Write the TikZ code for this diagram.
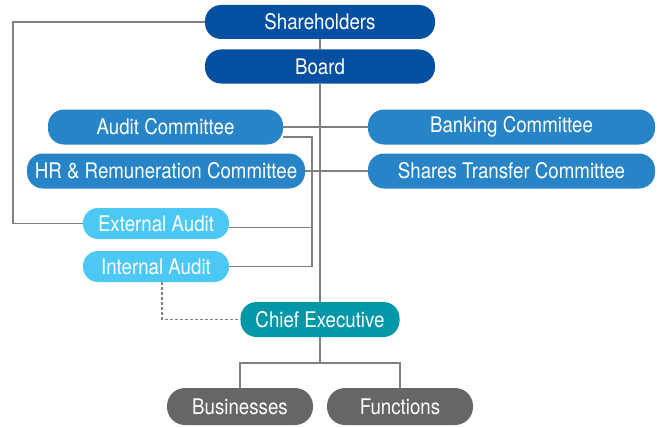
\documentclass[tikz,border=0pt]{standalone}
\usepackage{fontspec}
\setmainfont[FakeStretch=0.87]{TeX Gyre Heros}
\usepackage{tikz}
\usepackage{xcolor}
\usetikzlibrary{positioning,shapes}
\definecolor{boardblue}{HTML}{0550A0}
\definecolor{commblue}{HTML}{2785C7}
\definecolor{auditblue}{HTML}{4BC8F4}
\definecolor{ceteal}{HTML}{0097A6}
\definecolor{unitgray}{HTML}{666666}
\definecolor{linkgray}{HTML}{808080}

\begin{document}
\begin{tikzpicture}[x=1pt,y=-1pt]
\tikzstyle{pill}=[rectangle, rounded corners=16pt, inner sep=0pt, text=white, font=\fontsize{21.5}{24}\selectfont]
\tikzstyle{top}=[pill, fill=boardblue, minimum width=230, minimum height=34]
\tikzstyle{comm}=[pill, fill=commblue, minimum height=35]
\tikzstyle{aud}=[pill, fill=auditblue, minimum width=146, minimum height=31, rounded corners=15pt]
\tikzstyle{link}=[draw=linkgray, line width=1.5pt]
\useasboundingbox (0,0) rectangle (661,428);
\node [top] (sh) at (320,22) {Shareholders};
\node [top] (bd) at (320,66.5) {Board};
\node [comm, minimum width=235] (ac) at (165.5,127) {Audit Committee};
\node [comm, minimum width=278] (hr) at (166,171) {HR \& Remuneration Committee};
\node [comm, minimum width=287] (bc) at (511.5,127) {Banking Committee};
\node [comm, minimum width=287] (st) at (511.5,171) {Shares Transfer Committee};
\node [aud] (ea) at (156,223.5) {External Audit};
\node [aud] (ia) at (156,266.5) {Internal Audit};
\node [pill, fill=ceteal, minimum width=159, minimum height=35] (ce) at (320,319.5) {Chief Executive};
\node [pill, fill=unitgray, minimum width=146, minimum height=37, rounded corners=18pt] (bu) at (240,406.5) {Businesses};
\node [pill, fill=unitgray, minimum width=146, minimum height=37, rounded corners=18pt] (fu) at (400,406.5) {Functions};
\coordinate (lft) at (13,223.5);
\coordinate (acx) at (312,137);
\draw [link] (sh) -- (bd);
\draw [link] (bd) -- (ce);
\draw [link] (sh.west) -| (lft) -- (ea.west);
\draw [link] (ac.east) -- (bc.west);
\draw [link] (hr.east) -- (st.west);
\draw [link] (ac.east |- acx) -- (acx) |- (ia.east);
\draw [link] ([yshift=-4pt]ea.east) -- ([yshift=-4pt]ea.east -| acx);
\draw [link, dashed, dash pattern=on 3pt off 2pt] ([xshift=6pt]ia.south) |- (ce.west);
\draw [link] (ce.south) -- ++(0,26) -| (bu.north);
\draw [link] (ce.south) ++(0,26) -| (fu.north);
\end{tikzpicture}
\end{document}
